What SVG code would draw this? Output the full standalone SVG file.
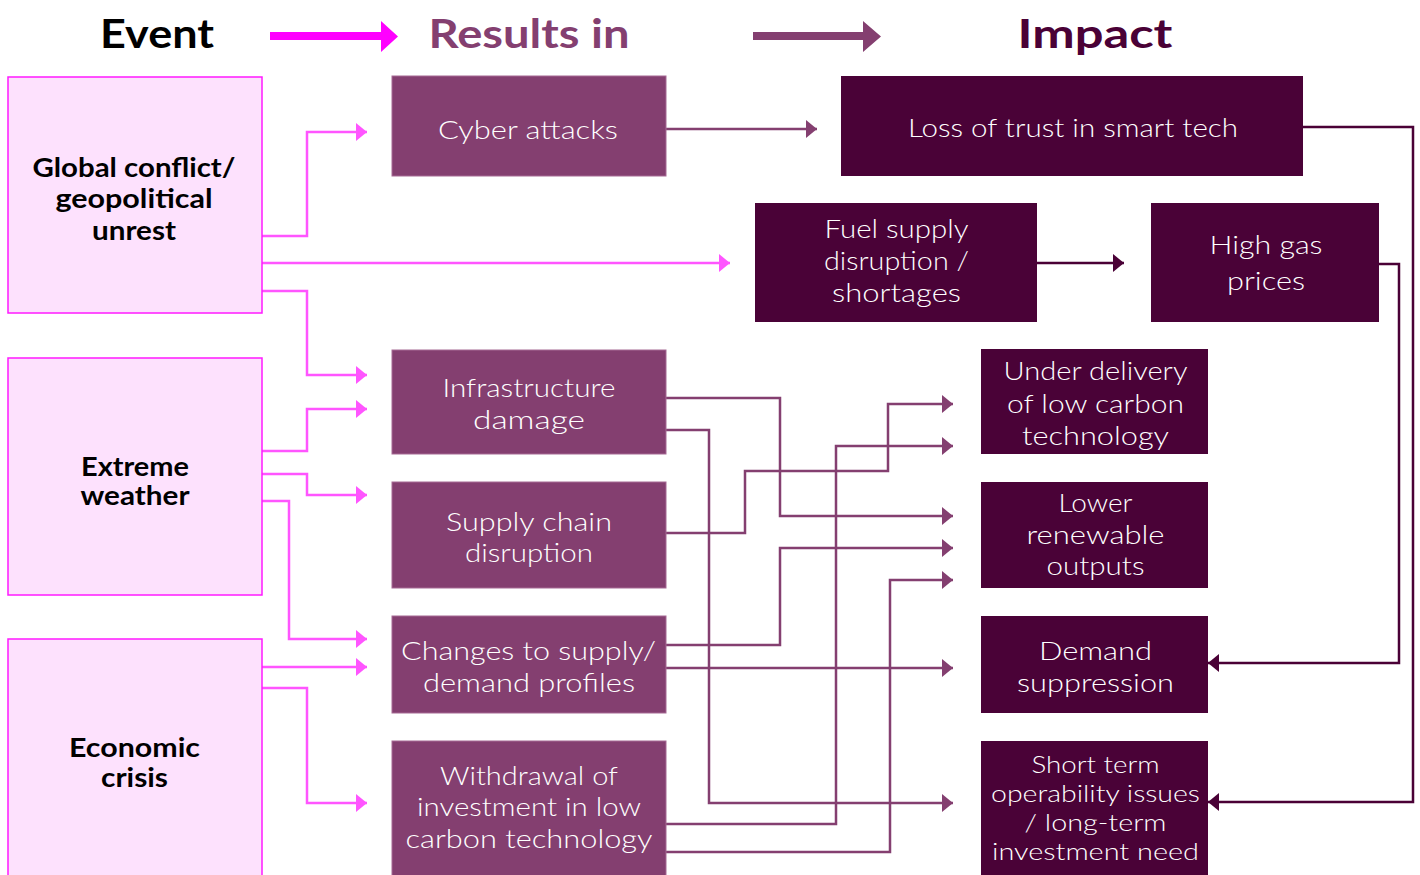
<svg xmlns="http://www.w3.org/2000/svg" width="1420" height="875" viewBox="0 0 1420 875">
<style>
.hdr{font-family:"Lato","Open Sans","Liberation Sans",sans-serif;font-weight:700;font-size:40px;text-anchor:middle}
.ev{fill:#FDE1FD;stroke:#FF1AFF;stroke-width:1.5}
.evt{font-family:"Lato","Open Sans","Liberation Sans",sans-serif;font-weight:700;font-size:26px;fill:#000;text-anchor:middle}
.res{fill:#843F70;stroke:#A66A94;stroke-width:1}
.imp{fill:#4A0237}
.wt{font-family:"Lato","Open Sans","Liberation Sans",sans-serif;font-weight:300;font-size:26px;fill:#fff;text-anchor:middle}
.sm{font-size:23.5px}
.cp{fill:none;stroke:#FF55FF;stroke-width:2.5;marker-end:url(#ap)}
.cu{fill:none;stroke:#843F70;stroke-width:2.5;marker-end:url(#au)}
.cd{fill:none;stroke:#4A0136;stroke-width:2.5;marker-end:url(#ad)}
</style>
<defs>
<marker id="ap" markerUnits="userSpaceOnUse" markerWidth="11" markerHeight="18" refX="11" refY="9" orient="auto"><path d="M0,0 L11,9 L0,18 z" fill="#FF55FF"/></marker>
<marker id="au" markerUnits="userSpaceOnUse" markerWidth="11" markerHeight="18" refX="11" refY="9" orient="auto"><path d="M0,0 L11,9 L0,18 z" fill="#843F70"/></marker>
<marker id="ad" markerUnits="userSpaceOnUse" markerWidth="11" markerHeight="18" refX="11" refY="9" orient="auto"><path d="M0,0 L11,9 L0,18 z" fill="#4A0136"/></marker>
</defs>
<rect width="1420" height="875" fill="#fff"/>

<g id="headers">
<text class="hdr" x="157" y="48" fill="#000" textLength="114" lengthAdjust="spacingAndGlyphs">Event</text>
<text class="hdr" x="529" y="48" fill="#843F70" textLength="201" lengthAdjust="spacingAndGlyphs">Results in</text>
<text class="hdr" x="1095" y="48" fill="#4A0136" textLength="155" lengthAdjust="spacingAndGlyphs">Impact</text>
<polygon points="270,32 381,32 381,21 398,36.5 381,52 381,40 270,40" fill="#FF00FF"/>
<polygon points="753,32 863,32 863,21 881,36.5 863,52 863,40 753,40" fill="#843F70"/>
</g>

<g id="connectors">
<path class="cp" d="M262,236 H307 V132 H367"/>
<path class="cp" d="M262,263 H730"/>
<path class="cp" d="M262,291 H307 V375 H367"/>
<path class="cp" d="M262,451 H307 V409 H367"/>
<path class="cp" d="M262,474 H307 V495 H367"/>
<path class="cp" d="M262,501 H289 V639 H367"/>
<path class="cp" d="M262,667 H367"/>
<path class="cp" d="M262,688 H307 V803 H367"/>
<path class="cu" d="M666,129 H817"/>
<path class="cu" d="M666,398 H780 V516 H953"/>
<path class="cu" d="M666,430 H709 V803 H953"/>
<path class="cu" d="M666,533 H745 V471 H888 V404 H953"/>
<path class="cu" d="M666,645 H780 V548 H953"/>
<path class="cu" d="M666,668 H953"/>
<path class="cu" d="M666,824 H836 V446 H953"/>
<path class="cu" d="M666,852 H890 V580 H953"/>
<path class="cd" d="M1037,263 H1124"/>
<path class="cd" d="M1303,127 H1413 V802 H1208"/>
<path class="cd" d="M1379,264 H1399 V663 H1208"/>
</g>

<g id="global-conflict">
<rect class="ev" x="8" y="77" width="254" height="236"/>
<text class="evt" x="134" y="177" textLength="203" lengthAdjust="spacingAndGlyphs">Global conflict/</text>
<text class="evt" x="134" y="208" textLength="157" lengthAdjust="spacingAndGlyphs">geopolitical</text>
<text class="evt" x="134" y="240" textLength="84" lengthAdjust="spacingAndGlyphs">unrest</text>
</g>
<g id="extreme-weather">
<rect class="ev" x="8" y="358" width="254" height="237"/>
<text class="evt" x="135" y="476" textLength="108" lengthAdjust="spacingAndGlyphs">Extreme</text>
<text class="evt" x="135" y="505" textLength="109" lengthAdjust="spacingAndGlyphs">weather</text>
</g>
<g id="economic-crisis">
<rect class="ev" x="8" y="639" width="254" height="250"/>
<text class="evt" x="134.5" y="757" textLength="131" lengthAdjust="spacingAndGlyphs">Economic</text>
<text class="evt" x="134.5" y="787" textLength="67" lengthAdjust="spacingAndGlyphs">crisis</text>
</g>

<g id="cyber-attacks">
<rect class="res" x="392" y="76" width="274" height="100"/>
<text class="wt" x="528" y="139" textLength="180" lengthAdjust="spacingAndGlyphs">Cyber attacks</text>
</g>
<g id="infrastructure-damage">
<rect class="res" x="392" y="350" width="274" height="104"/>
<text class="wt" x="529" y="397" textLength="173" lengthAdjust="spacingAndGlyphs">Infrastructure</text>
<text class="wt" x="529" y="429" textLength="112" lengthAdjust="spacingAndGlyphs">damage</text>
</g>
<g id="supply-chain">
<rect class="res" x="392" y="482" width="274" height="106"/>
<text class="wt" x="529" y="531" textLength="166" lengthAdjust="spacingAndGlyphs">Supply chain</text>
<text class="wt" x="529" y="562" textLength="128" lengthAdjust="spacingAndGlyphs">disruption</text>
</g>
<g id="changes-profiles">
<rect class="res" x="392" y="616" width="274" height="97"/>
<text class="wt" x="528.5" y="660" textLength="255" lengthAdjust="spacingAndGlyphs">Changes to supply/</text>
<text class="wt" x="529" y="692" textLength="212" lengthAdjust="spacingAndGlyphs">demand profiles</text>
</g>
<g id="withdrawal">
<rect class="res" x="392" y="741" width="274" height="150"/>
<text class="wt" x="529" y="785" textLength="178" lengthAdjust="spacingAndGlyphs">Withdrawal of</text>
<text class="wt" x="529" y="816" textLength="224" lengthAdjust="spacingAndGlyphs">investment in low</text>
<text class="wt" x="529" y="848" textLength="247" lengthAdjust="spacingAndGlyphs">carbon technology</text>
</g>

<g id="loss-of-trust">
<rect class="imp" x="841" y="76" width="462" height="100"/>
<text class="wt" x="1073" y="137" textLength="330" lengthAdjust="spacingAndGlyphs">Loss of trust in smart tech</text>
</g>
<g id="fuel-supply">
<rect class="imp" x="755" y="203" width="282" height="119"/>
<text class="wt" x="896.5" y="238" textLength="144" lengthAdjust="spacingAndGlyphs">Fuel supply</text>
<text class="wt" x="896.5" y="270" textLength="145" lengthAdjust="spacingAndGlyphs">disruption /</text>
<text class="wt" x="896.5" y="302" textLength="129" lengthAdjust="spacingAndGlyphs">shortages</text>
</g>
<g id="high-gas">
<rect class="imp" x="1151" y="203" width="228" height="119"/>
<text class="wt" x="1266" y="254" textLength="113" lengthAdjust="spacingAndGlyphs">High gas</text>
<text class="wt" x="1266" y="290" textLength="78" lengthAdjust="spacingAndGlyphs">prices</text>
</g>
<g id="under-delivery">
<rect class="imp" x="981" y="349" width="227" height="105"/>
<text class="wt" x="1095.5" y="380" textLength="184" lengthAdjust="spacingAndGlyphs">Under delivery</text>
<text class="wt" x="1095.5" y="413" textLength="177" lengthAdjust="spacingAndGlyphs">of low carbon</text>
<text class="wt" x="1095.5" y="445" textLength="147" lengthAdjust="spacingAndGlyphs">technology</text>
</g>
<g id="lower-renewable">
<rect class="imp" x="981" y="482" width="227" height="106"/>
<text class="wt" x="1095.5" y="512" textLength="74" lengthAdjust="spacingAndGlyphs">Lower</text>
<text class="wt" x="1095.5" y="544" textLength="138" lengthAdjust="spacingAndGlyphs">renewable</text>
<text class="wt" x="1095.5" y="575" textLength="98" lengthAdjust="spacingAndGlyphs">outputs</text>
</g>
<g id="demand-suppression">
<rect class="imp" x="981" y="616" width="227" height="97"/>
<text class="wt" x="1095.5" y="660" textLength="113" lengthAdjust="spacingAndGlyphs">Demand</text>
<text class="wt" x="1095.5" y="692" textLength="157" lengthAdjust="spacingAndGlyphs">suppression</text>
</g>
<g id="short-term">
<rect class="imp" x="981" y="741" width="227" height="150"/>
<text class="wt sm" x="1095.5" y="773" textLength="128" lengthAdjust="spacingAndGlyphs">Short term</text>
<text class="wt sm" x="1095.5" y="802" textLength="209" lengthAdjust="spacingAndGlyphs">operability issues</text>
<text class="wt sm" x="1095.5" y="831" textLength="142" lengthAdjust="spacingAndGlyphs">/ long-term</text>
<text class="wt sm" x="1095.5" y="860" textLength="207" lengthAdjust="spacingAndGlyphs">investment need</text>
</g>
</svg>
